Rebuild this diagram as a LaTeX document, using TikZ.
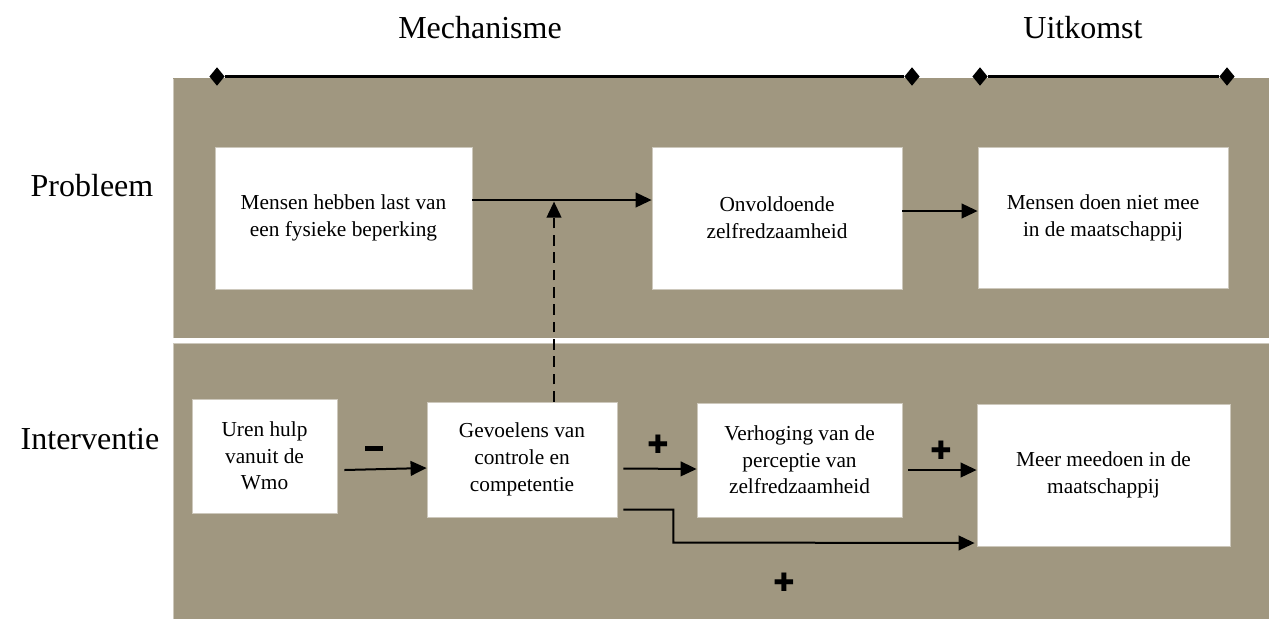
\documentclass[tikz,border=0pt]{standalone}
\usepackage{fontspec}
\setmainfont{Liberation Serif}
\newfontfamily\symfont{DejaVu Sans}
\usetikzlibrary{arrows.meta,shapes.geometric}
\definecolor{panelc}{RGB}{160,151,128}
\definecolor{edgec}{RGB}{205,200,188}
\begin{document}
\begin{tikzpicture}[x=0.75pt,y=-0.75pt,
  boxc/.style={draw=edgec,line width=0.6pt,fill=white,inner sep=0pt,align=center,
    font=\fontsize{16}{20}\selectfont},
  head/.style={font=\fontsize{24}{28}\selectfont,anchor=base,inner sep=0pt},
  diam/.style={diamond,fill=black,inner sep=0pt,minimum width=11.5pt,minimum height=14pt},
  conn/.style={line width=1.5pt,-{Triangle[length=12pt,width=11pt]}},
  sign/.style={font=\symfont\fontsize{19}{19}\selectfont,inner sep=0pt}]
\useasboundingbox (0,0) rectangle (1269,619);
% panels
\fill[panelc] (173,78) rectangle (1269,338);
\fill[panelc] (173,343) rectangle (1269,619);
\draw[edgec,line width=0.5pt] (173,338) -- (173,78.5);
\draw[edgec,line width=0.5pt] (173,619) -- (173,343.5) -- (1269,343.5);
% headings
\node[head] (hm) at (480,38) {Mechanisme};
\node[head] (hu) at (1083,38) {Uitkomst};
\node[head] (hp) at (92,196) {Probleem};
\node[head] (hi) at (90,449) {Interventie};
% axis
\node[diam] (m1) at (217,76.5) {};
\node[diam] (m2) at (912,76.5) {};
\node[diam] (u1) at (980,76.5) {};
\node[diam] (u2) at (1227,76.5) {};
\draw[line width=2pt] (m1) -- (m2);
\draw[line width=2pt] (u1) -- (u2);
% boxes
\node[boxc,minimum width=192.75pt,minimum height=106.5pt] (b1) at (343.5,218)
  {Mensen hebben last van\\een fysieke beperking};
\node[boxc,minimum width=187.5pt,minimum height=106.5pt] (b2) at (777,218)
  {Onvoldoende\\zelfredzaamheid};
\node[boxc,minimum width=187.5pt,minimum height=105.75pt] (b3) at (1103,218)
  {Mensen doen niet mee\\in de maatschappij};
\node[boxc,minimum width=108.75pt,minimum height=85.5pt] (b4) at (264.5,456)
  {Uren hulp\\vanuit de\\Wmo};
\node[boxc,minimum width=142.5pt,minimum height=86.25pt] (b5) at (522,459.5)
  {Gevoelens van\\controle en\\competentie};
\node[boxc,minimum width=153.75pt,minimum height=85.5pt] (b6) at (799.5,460)
  {Verhoging van de\\perceptie van\\zelfredzaamheid};
\node[boxc,minimum width=189.75pt,minimum height=106.5pt] (b7) at (1103.5,475)
  {Meer meedoen in de\\maatschappij};
% connectors
\draw[conn] ([shift={(0,-18)}]b1.east) -- ([shift={(0,-18)}]b2.west);
\draw[conn] ([shift={(0,-7)}]b2.east) -- ([shift={(0,-7)}]b3.west);
\draw[conn,dash pattern=on 8pt off 5pt] ([xshift=24pt]b5.north) -- ++(0,-200);
\draw[conn] ([shift={(7,14)}]b4.east) -- ([shift={(0,8.5)}]b5.west);
\draw[conn] ([shift={(6,9)}]b5.east) -- ([shift={(0,9)}]b6.west);
\draw[conn] ([shift={(6,10)}]b6.east) -- ([shift={(0,-5)}]b7.west);
\draw[conn] ([shift={(6,50)}]b5.east) -- ++(50,0) -- ++(0,33) -- ([shift={(-2,68)}]b7.west);
% signs
\node[sign] (s1) at (374,448) {\rule{13pt}{3.75pt}};
\node[sign] (s2) at (658,444) {✚};
\node[sign] (s3) at (941,450) {✚};
\node[sign] (s4) at (784,582) {✚};
\end{tikzpicture}
\end{document}
